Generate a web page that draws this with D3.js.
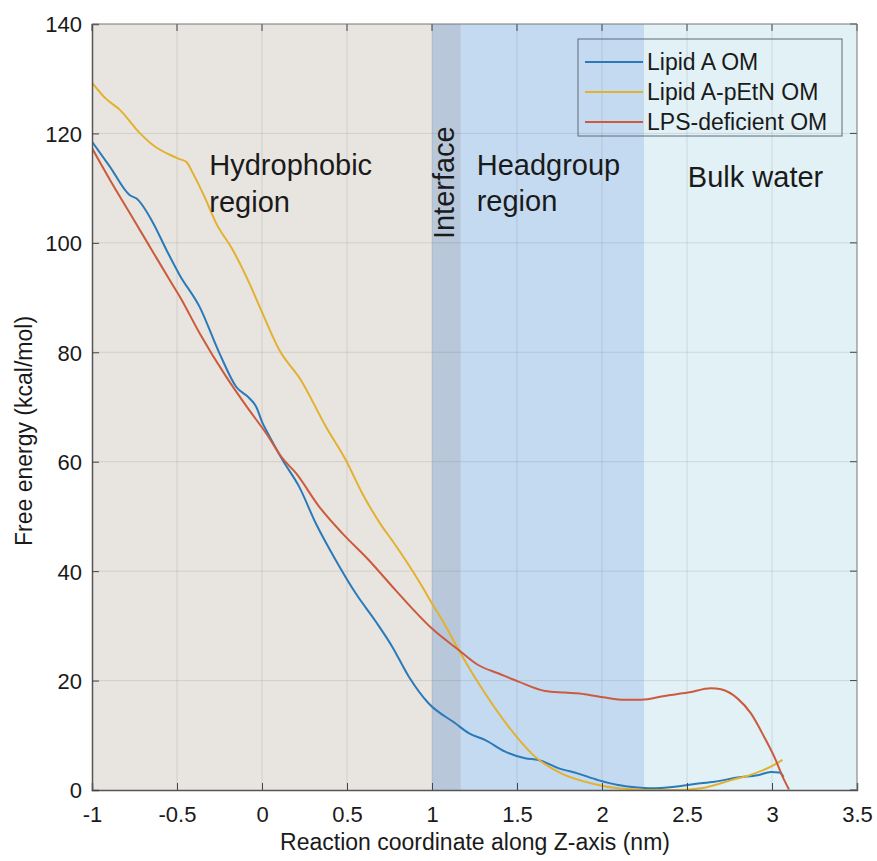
<!DOCTYPE html>
<html>
<head>
<meta charset="utf-8">
<script src="https://d3js.org/d3.v7.min.js"></script>
<style>
  body { margin: 0; background: #fff; }
  svg text { font-family: "Liberation Sans", Arial, sans-serif; fill: #1a1a1a; }
</style>
</head>
<body>
<div id="chart"></div>
<script>
// data
var seriesNames = ["Lipid A OM", "Lipid A-pEtN OM", "LPS-deficient OM"];
var seriesColors = ["#2a7ab9", "#e2b130", "#cc5a3c"];

var lipidA_x = [-1.0, -0.894, -0.777, -0.738, -0.64, -0.562, -0.484, -0.367, -0.25, -0.152, -0.074, -0.035, 0.004, 0.024, 0.121, 0.219, 0.317, 0.434, 0.552, 0.669, 0.766, 0.864, 0.981, 1.137, 1.216, 1.314, 1.431, 1.548, 1.626, 1.743, 1.86, 1.978, 2.095, 2.193, 2.29, 2.427, 2.545, 2.662, 2.798, 2.916, 2.994, 3.043, 3.068];
var lipidA_y = [118.5, 113.9, 108.7, 108.1, 103.6, 98.7, 94.1, 88.3, 79.8, 73.7, 71.6, 70.1, 67.0, 65.8, 60.3, 55.4, 48.7, 42.0, 35.9, 30.8, 26.2, 20.7, 15.8, 12.2, 10.4, 9.1, 7.0, 5.8, 5.5, 4.0, 3.0, 1.8, 0.9, 0.5, 0.3, 0.6, 1.1, 1.5, 2.3, 2.7, 3.3, 3.2, 2.4];

var pEtN_x = [-1.0, -0.92, -0.836, -0.72, -0.63, -0.543, -0.484, -0.445, -0.406, -0.338, -0.27, -0.172, -0.074, -0.005, 0.102, 0.229, 0.376, 0.493, 0.59, 0.708, 0.766, 0.845, 0.942, 1.0, 1.059, 1.157, 1.274, 1.45, 1.606, 1.763, 1.939, 2.095, 2.212, 2.3, 2.45, 2.58, 2.76, 2.896, 3.013, 3.062];
var pEtN_y = [129.3, 126.4, 124.3, 120.1, 117.6, 116.1, 115.3, 114.8, 112.7, 108.4, 103.6, 98.7, 92.6, 87.7, 80.4, 74.9, 66.4, 60.3, 54.2, 48.1, 45.6, 42.0, 37.2, 34.1, 31.1, 25.6, 19.5, 11.6, 6.1, 3.0, 1.2, 0.3, 0.1, 0.0, 0.0, 0.3, 1.8, 3.0, 4.6, 5.5];

var lps_x = [-1.0, -0.894, -0.777, -0.66, -0.543, -0.484, -0.367, -0.21, -0.093, 0.024, 0.121, 0.2, 0.336, 0.473, 0.629, 0.766, 0.883, 1.0, 1.157, 1.274, 1.392, 1.509, 1.665, 1.782, 1.899, 2.017, 2.134, 2.232, 2.369, 2.505, 2.642, 2.7, 2.798, 2.876, 2.954, 3.013, 3.072, 3.1];
var lps_y = [117.3, 111.5, 105.4, 99.3, 93.2, 90.2, 83.5, 75.5, 70.2, 65.2, 60.6, 57.9, 51.8, 46.9, 42.0, 37.2, 33.2, 29.5, 25.6, 22.8, 21.3, 19.8, 18.1, 17.8, 17.5, 16.9, 16.5, 16.5, 17.2, 17.8, 18.6, 18.4, 16.7, 14.0, 9.7, 6.1, 1.8, 0.1];

var regionStart = [-1, 1, 1.17, 2.25];
var regionEnd = [1, 1.17, 2.25, 3.5];
var regionColors = ["#e8e5e0", "#b8c8da", "#c4daf1", "#e1f1f6"];

var xTicks = [-1, -0.5, 0, 0.5, 1, 1.5, 2, 2.5, 3, 3.5];
var yTicks = [0, 20, 40, 60, 80, 100, 120, 140];

var svgWidth = 877;
var svgHeight = 861;
var margin = { top: 24, right: 20, bottom: 71, left: 92 };
var width = svgWidth - margin.left - margin.right;
var height = svgHeight - margin.top - margin.bottom;

var svg = d3.select("#chart")
  .append("svg")
  .attr("width", svgWidth)
  .attr("height", svgHeight);

var chartGroup = svg.append("g")
  .attr("transform", `translate(${margin.left}, ${margin.top})`);

var xScale = d3.scaleLinear().domain([-1, 3.5]).range([0, width]);
var yScale = d3.scaleLinear().domain([0, 140]).range([height, 0]);

// shaded regions
chartGroup.selectAll("rect.region")
  .data(regionStart)
  .enter()
  .append("rect")
  .attr("class", "region")
  .attr("x", (d, i) => xScale(d))
  .attr("y", 0)
  .attr("width", (d, i) => xScale(regionEnd[i]) - xScale(d))
  .attr("height", height)
  .attr("fill", (d, i) => regionColors[i]);

// grid
chartGroup.selectAll("line.gx")
  .data(xTicks.slice(1, -1))
  .enter()
  .append("line")
  .attr("x1", d => xScale(d)).attr("x2", d => xScale(d))
  .attr("y1", 0).attr("y2", height)
  .attr("stroke", "rgba(60,60,60,0.13)")
  .attr("stroke-width", 1);

chartGroup.selectAll("line.gy")
  .data(yTicks.slice(1, -1))
  .enter()
  .append("line")
  .attr("y1", d => yScale(d)).attr("y2", d => yScale(d))
  .attr("x1", 0).attr("x2", width)
  .attr("stroke", "rgba(60,60,60,0.13)")
  .attr("stroke-width", 1);

// curves
var allSeries = [
  { x: lipidA_x, y: lipidA_y },
  { x: pEtN_x, y: pEtN_y },
  { x: lps_x, y: lps_y }
];

var line = d3.line()
  .x(d => xScale(d[0]))
  .y(d => yScale(d[1]))
  .curve(d3.curveMonotoneX);

chartGroup.append("defs").append("clipPath").attr("id", "clip")
  .append("rect").attr("width", width).attr("height", height + 1);

allSeries.forEach(function(s, i) {
  var pts = s.x.map((v, j) => [v, s.y[j]]);
  chartGroup.append("path")
    .datum(pts)
    .attr("d", line)
    .attr("fill", "none")
    .attr("stroke", seriesColors[i])
    .attr("stroke-width", 2)
    .attr("clip-path", "url(#clip)");
});

// axes (box with inward ticks)
var bottomAxis = d3.axisBottom(xScale).tickValues(xTicks).tickSize(-7).tickPadding(16).tickFormat(d => String(d));
var leftAxis = d3.axisLeft(yScale).tickValues(yTicks).tickSize(-7).tickPadding(10);

var xg = chartGroup.append("g")
  .attr("transform", `translate(0, ${height})`)
  .call(bottomAxis);
var yg = chartGroup.append("g").call(leftAxis);

[xg, yg].forEach(function(g) {
  g.select(".domain").attr("stroke", "#555").attr("stroke-width", 1.5);
  g.selectAll(".tick line").attr("stroke", "#444");
  g.selectAll(".tick text").style("font-size", "22px").attr("fill", "#1a1a1a");
});
yg.selectAll(".tick text").attr("dy", "0.36em");
xg.selectAll(".tick text").attr("dy", "0.72em");

// top and right ticks
chartGroup.selectAll("line.tt")
  .data(xTicks)
  .enter()
  .append("line")
  .attr("x1", d => xScale(d)).attr("x2", d => xScale(d))
  .attr("y1", 0).attr("y2", 7)
  .attr("stroke", "#444");
chartGroup.selectAll("line.rt")
  .data(yTicks)
  .enter()
  .append("line")
  .attr("y1", d => yScale(d)).attr("y2", d => yScale(d))
  .attr("x1", width - 7).attr("x2", width)
  .attr("stroke", "#444");
chartGroup.append("line")
  .attr("x1", 0).attr("x2", width).attr("y1", 0).attr("y2", 0)
  .attr("stroke", "#777").attr("stroke-width", 1);
chartGroup.append("line")
  .attr("x1", width).attr("x2", width).attr("y1", 0).attr("y2", height)
  .attr("stroke", "#777").attr("stroke-width", 1);

// region labels
chartGroup.append("text")
  .attr("x", xScale(-0.31)).attr("y", yScale(112.4))
  .style("font-size", "29px")
  .text("Hydrophobic");
chartGroup.append("text")
  .attr("x", xScale(-0.31)).attr("y", yScale(105.7))
  .style("font-size", "29px")
  .text("region");
chartGroup.append("text")
  .attr("transform", `translate(${xScale(1.128)}, ${yScale(111)}) rotate(-90)`)
  .attr("text-anchor", "middle")
  .style("font-size", "29px")
  .text("Interface");
chartGroup.append("text")
  .attr("x", xScale(1.263)).attr("y", yScale(112.4))
  .style("font-size", "29px")
  .text("Headgroup");
chartGroup.append("text")
  .attr("x", xScale(1.263)).attr("y", yScale(105.9))
  .style("font-size", "29px")
  .text("region");
chartGroup.append("text")
  .attr("x", xScale(2.505)).attr("y", yScale(110.3))
  .style("font-size", "29px")
  .text("Bulk water");

// legend
var legend = chartGroup.append("g")
  .attr("transform", `translate(${578 - margin.left}, ${39 - margin.top})`);
legend.append("rect")
  .attr("width", 264).attr("height", 97)
  .attr("fill", "none")
  .attr("stroke", "#5f6b78")
  .attr("stroke-width", 1);
seriesNames.forEach(function(name, i) {
  var yy = 23 + i * 30;
  legend.append("line")
    .attr("x1", 7).attr("x2", 65)
    .attr("y1", yy).attr("y2", yy)
    .attr("stroke", seriesColors[i])
    .attr("stroke-width", 2);
  legend.append("text")
    .attr("x", 69).attr("y", yy)
    .attr("dy", "0.36em")
    .style("font-size", "23px")
    .text(name);
});

// axis titles
svg.append("text")
  .attr("transform", `translate(475, 850)`)
  .attr("text-anchor", "middle")
  .style("font-size", "23px")
  .text("Reaction coordinate along Z-axis (nm)");

svg.append("text")
  .attr("transform", `translate(32, 431) rotate(-90)`)
  .attr("text-anchor", "middle")
  .style("font-size", "23px")
  .text("Free energy (kcal/mol)");
</script>
</body>
</html>
